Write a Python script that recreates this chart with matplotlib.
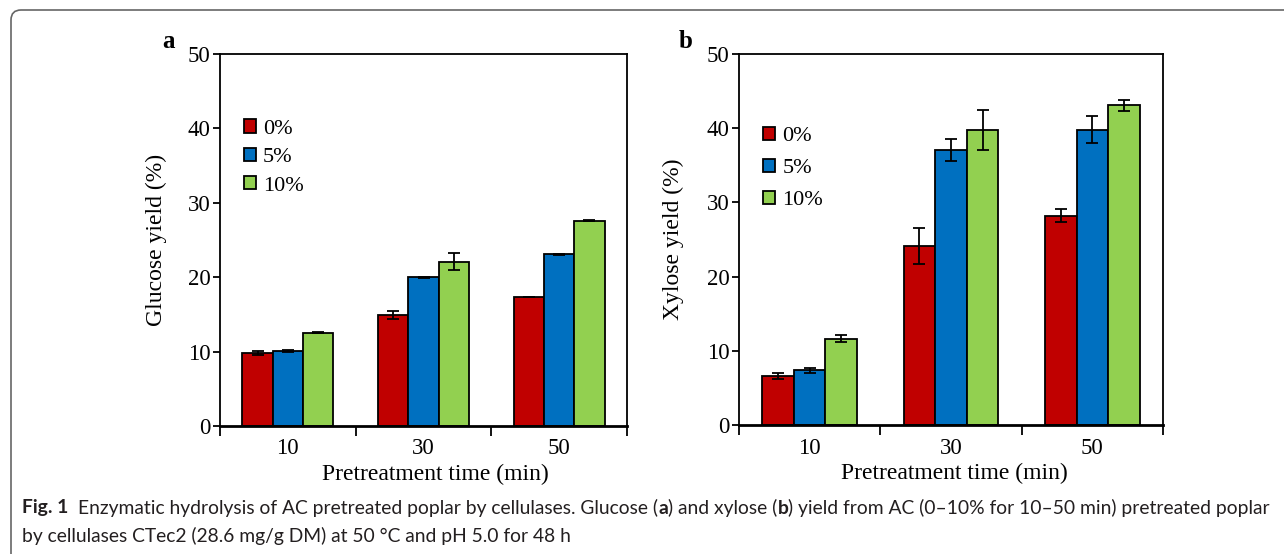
import matplotlib
matplotlib.use("Agg")
import matplotlib.pyplot as plt
import numpy as np
from matplotlib.patches import FancyBboxPatch, Patch

# ---------------- data ----------------
times = ["10", "30", "50"]
series = ["0%", "5%", "10%"]
colors = ["#C00000", "#0070C0", "#92D050"]

glucose_0 = [9.8, 14.9, 17.3]
glucose_5 = [10.1, 20.0, 23.1]
glucose_10 = [12.55, 22.1, 27.6]
glucose_err_0 = [0.25, 0.5, 0.0]
glucose_err_5 = [0.1, 0.05, 0.05]
glucose_err_10 = [0.1, 1.15, 0.05]

xylose_0 = [6.6, 24.1, 28.2]
xylose_5 = [7.35, 37.1, 39.8]
xylose_10 = [11.65, 39.8, 43.1]
xylose_err_0 = [0.4, 2.4, 0.9]
xylose_err_5 = [0.3, 1.5, 1.8]
xylose_err_10 = [0.5, 2.7, 0.75]

y_ticks = [0, 10, 20, 30, 40, 50]

W, H = 1284, 554
fig = plt.figure(figsize=(W / 100, H / 100), dpi=100)

serif = "Liberation Serif"


def px_axes(l, r, t, b):
    return fig.add_axes([l / W, (H - b) / H, (r - l) / W, (b - t) / H])


def panel(ax, vals, errs, ylabel, leg_anchor, labelspacing, xlab_x):
    x = np.arange(len(times))
    bw = 0.223
    for i, (v, e, c, s) in enumerate(zip(vals, errs, colors, series)):
        ax.bar(x + (i - 1) * bw, v, bw, color=c, edgecolor="black",
               linewidth=1.3, label=s, zorder=2,
               yerr=e, error_kw=dict(ecolor="black", elinewidth=1.3,
                                     capsize=4.3, capthick=1.3, zorder=3))
    ax.set_xlim(-0.5, len(times) - 0.5)
    ax.set_ylim(0, 50)
    ax.set_yticks(y_ticks)
    ax.set_yticklabels([str(t) for t in y_ticks], fontfamily=serif, fontsize=16.5)
    ax.set_xticks(x)
    ax.set_xticklabels(times, fontfamily=serif, fontsize=16.5)
    ax.set_xticks(np.arange(-0.5, len(times)), minor=True)
    ax.tick_params(axis="x", which="major", length=0, pad=9)
    ax.tick_params(axis="x", which="minor", length=7, width=1.3, direction="out")
    ax.tick_params(axis="y", which="major", length=5, width=1.3, direction="out", pad=2)
    for sp in ax.spines.values():
        sp.set_linewidth(1.3)
    ax.spines["bottom"].set_linewidth(2.0)
    ax.set_xlabel("Pretreatment time (min)", fontfamily=serif, fontsize=17, labelpad=3)
    ax.xaxis.label.set_x(xlab_x)
    ax.set_ylabel(ylabel, fontfamily=serif, fontsize=17)
    ax.yaxis.set_label_coords(-0.13, 0.5)
    handles = [Patch(facecolor=c, edgecolor="black", linewidth=1.3) for c in colors]
    ax.legend(handles, series, loc="upper left", bbox_to_anchor=leg_anchor,
              frameon=False, prop=dict(family=serif, size=16),
              handlelength=0.54, handleheight=0.54, handletextpad=0.32,
              labelspacing=labelspacing, borderpad=0, borderaxespad=0)


axa = px_axes(220, 627, 54, 426)
panel(axa, [glucose_0, glucose_5, glucose_10],
      [glucose_err_0, glucose_err_5, glucose_err_10],
      "Glucose yield (%)", (0.059, 0.824), 0.40, 0.53)

axb = px_axes(739, 1163, 54, 425)
panel(axb, [xylose_0, xylose_5, xylose_10],
      [xylose_err_0, xylose_err_5, xylose_err_10],
      "Xylose yield (%)", (0.057, 0.804), 0.56, 0.509)

fig.text(169 / W, 1 - 42 / H, "a", fontfamily=serif, fontweight="bold",
         fontsize=18, ha="center", va="center")
fig.text(686 / W, 1 - 42 / H, "b", fontfamily=serif, fontweight="bold",
         fontsize=18, ha="center", va="center")

# border box (pixel-like coordinates via inches)
box = FancyBboxPatch((0.11, -1.0), 13.5, (H - 10) / 100 + 1.0,
                     boxstyle="round,pad=0,rounding_size=0.1",
                     transform=fig.dpi_scale_trans, facecolor="none",
                     edgecolor="#666666", linewidth=1.2, clip_on=False)
fig.patches.append(box)

# caption
cap_font = "Lato"
cap_size = 13.85
cap_color = "#231f20"
renderer = fig.canvas.get_renderer()
t1 = fig.text(22 / W, 1 - 508 / H, "Fig. 1", fontfamily=cap_font, fontweight="bold",
              fontsize=cap_size, color=cap_color, va="center")
bb = t1.get_window_extent(renderer)
segments = [("Enzymatic hydrolysis of AC pretreated poplar by cellulases. Glucose (", "normal"),
            ("a", "bold"), (") and xylose (", "normal"), ("b", "bold"),
            (") yield from AC (0–10% for 10–50 min) pretreated poplar", "normal")]
xcur = bb.x1 + 10
for s, w in segments:
    t = fig.text(xcur / W, 1 - 508 / H, s, fontfamily=cap_font, fontweight=w,
                 fontsize=cap_size, color=cap_color, va="center")
    xcur = t.get_window_extent(renderer).x1
fig.text(22 / W, 1 - 536 / H,
         "by cellulases CTec2 (28.6 mg/g DM) at 50 °C and pH 5.0 for 48 h",
         fontfamily=cap_font, fontsize=cap_size, color=cap_color, va="center")

fig.savefig("out.png", dpi=100)
